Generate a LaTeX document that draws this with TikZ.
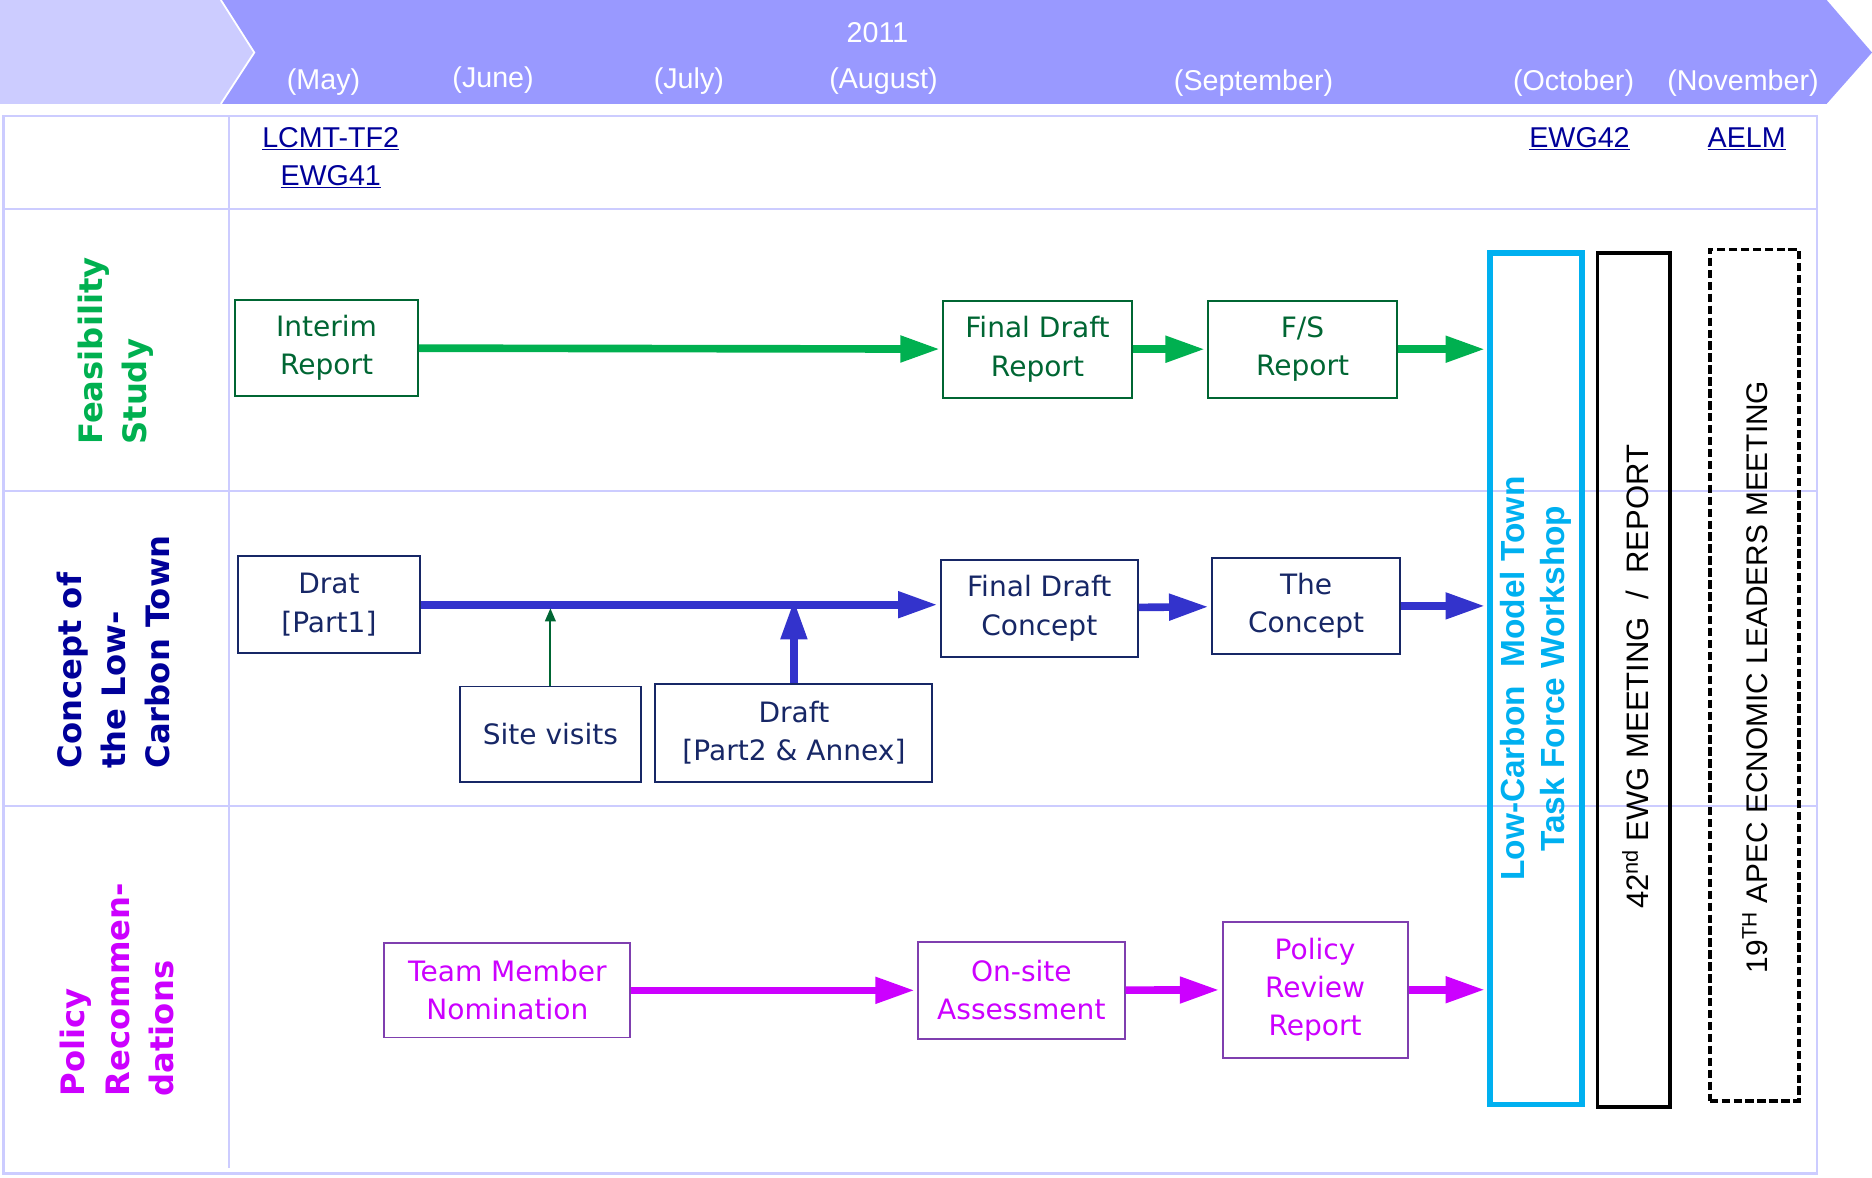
\documentclass[tikz,border=0pt]{standalone}
\usepackage{fontspec}
\setmainfont{DejaVu Sans}
\newfontfamily\narrowfont{Liberation Sans}
\usetikzlibrary{arrows.meta}

\definecolor{hdrlight}{HTML}{CCCCFF}
\definecolor{hdrdark}{HTML}{9999FF}
\definecolor{gridc}{HTML}{CCCCFF}
\definecolor{fsgreen}{HTML}{00B050}
\definecolor{fsdark}{HTML}{006633}
\definecolor{cnlabel}{HTML}{000099}
\definecolor{cnnavy}{HTML}{172766}
\definecolor{cnblue}{HTML}{3333CC}
\definecolor{prmag}{HTML}{CC00FF}
\definecolor{prpurple}{HTML}{7F3FAF}
\definecolor{wscyan}{HTML}{00B0F0}

\tikzset{
  stepbox/.style={draw, line width=1.6pt, inner sep=0pt, align=center,
    font=\fontsize{23.5}{32}\selectfont},
  fsbox/.style={stepbox, draw=fsdark, text=fsdark},
  cnbox/.style={stepbox, draw=cnnavy, text=cnnavy},
  prbox/.style={stepbox, draw=prpurple, text=prmag},
  fatarrow/.style={line width=6.4pt, -{Triangle[length=33pt, width=21pt]}, shorten >=2pt},
  lanelabel/.style={rotate=90, align=left, font=\fontsize{27}{37}\selectfont\bfseries},
  month/.style={text=white, font=\narrowfont\fontsize{24}{28}\selectfont},
  meeting/.style={text=cnlabel, align=center, font=\narrowfont\fontsize{24}{32}\selectfont},
}

\begin{document}
\begin{tikzpicture}[x=1pt, y=-1pt]
  \useasboundingbox (0,0) rectangle (1568,986);

  % timeline header
  \fill[hdrlight] (0,0) -- (185,0) -- (213,44) -- (185,87) -- (0,87) -- cycle;
  \fill[hdrdark] (185,0) -- (1530,0) -- (1568,44) -- (1530,87) -- (185,87) -- (213,44) -- cycle;
  \draw[white, line width=1.5pt] (185,0) -- (213,44) -- (185,87);
  \node[month] (year) at (735,27) {2011};
  \node[month] (may) at (271,69) {(May)};
  \node[month] (jun) at (413,67) {(June)};
  \node[month] (jul) at (577,68) {(July)};
  \node[month] (aug) at (740,68) {(August)};
  \node[month] (sep) at (1050,70) {(September)};
  \node[month] (oct) at (1318,70) {(October)};
  \node[month] (nov) at (1460,70) {(November)};

  % table grid
  \draw[gridc, line width=2pt] (3,97) rectangle (1522,983);
  \draw[gridc, line width=2pt] (3,175) -- (1522,175);
  \draw[gridc, line width=2pt] (3,411) -- (1522,411);
  \draw[gridc, line width=2pt] (3,675) -- (1522,675);
  \draw[gridc, line width=2pt] (192,97) -- (192,978);

  % meetings
  \node[meeting] (tf2) at (277,132) {\underline{LCMT-TF2}\\\underline{EWG41}};
  \node[meeting] (ewg42) at (1323,116) {\underline{EWG42}};
  \node[meeting] (aelmlink) at (1463,116) {\underline{AELM}};

  % lane labels
  \node[lanelabel, text=fsgreen] (fslabel) at (97,294) {Feasibility\\Study};
  \node[lanelabel, text=cnlabel] (cnlabel) at (95,546) {Concept of\\the Low-\\Carbon Town};
  \node[lanelabel, text=prmag] (prlabel) at (98,829) {Policy\\Recommen-\\dations};

  % milestones
  \node[draw=wscyan, line width=4.5pt, minimum width=77pt, minimum height=713pt] (ws) at (1286.5,568.5) {};
  \node[draw=black, line width=3.2pt, minimum width=61pt, minimum height=715pt] (ewg) at (1368.5,569.5) {};
  \node[draw=black, line width=3.2pt, dashed, dash pattern=on 7pt off 3pt, minimum width=75pt, minimum height=713pt] (aelm) at (1469.5,565.5) {};
  \node[rotate=90, text=wscyan, align=center, font=\narrowfont\fontsize{28}{33}\selectfont\bfseries] (wstext) at (ws.center) {Low-Carbon\ \ Model Town\\Task Force Workshop};
  \node[rotate=90, font=\narrowfont\fontsize{26}{30}\selectfont] (ewgtext) at (1370,567) {42\textsuperscript{nd} EWG MEETING \ / \ REPORT};
  \node[rotate=90, font=\narrowfont\fontsize{25}{30}\selectfont] (aelmtext) at (1470,567) {19\textsuperscript{TH} APEC ECNOMIC LEADERS MEETING};

  % feasibility study
  \node[fsbox, minimum width=153pt, minimum height=81pt] (interim) at (273.5,291.5) {Interim\\Report};
  \node[fsbox, minimum width=158pt, minimum height=81pt] (fdr) at (869,292.5) {Final Draft\\Report};
  \node[fsbox, minimum width=158pt, minimum height=81pt] (fsr) at (1091,292.5) {F/S\\Report};
  \draw[fatarrow, fsgreen] (interim) -- (fdr);
  \draw[fatarrow, fsgreen] (fdr) -- (fsr);
  \draw[fatarrow, fsgreen] (fsr) -- (fsr -| ws.west);

  % concept of the low-carbon town
  \node[cnbox, minimum width=153pt, minimum height=81pt] (drat) at (275.5,506.5) {Drat\\{[}Part1{]}};
  \node[cnbox, minimum width=165pt, minimum height=81pt] (fdc) at (870.5,509.5) {Final Draft\\Concept};
  \node[cnbox, minimum width=158pt, minimum height=81pt] (concept) at (1094,507.5) {The\\Concept};
  \node[cnbox, minimum width=152pt, minimum height=80pt] (site) at (461,615) {Site visits};
  \node[cnbox, minimum width=232pt, minimum height=82pt] (draft2) at (665,614) {Draft\\{[}Part2 \& Annex{]}};
  \draw[fatarrow, cnblue] (drat) -- (drat -| fdc.west);
  \draw[fatarrow, cnblue] (fdc) -- (concept);
  \draw[fatarrow, cnblue] (concept) -- (concept -| ws.west);
  \draw[fsdark, line width=1.5pt, -{Triangle[length=11pt, width=9pt]}, shorten >=3pt] (site.north) -- (site.north |- drat.east);
  \draw[fatarrow, cnblue, shorten >=-4pt] (draft2.north) -- (draft2.north |- drat.east);

  % policy recommendations
  \node[prbox, minimum width=206pt, minimum height=79pt] (team) at (425,829.5) {Team Member\\Nomination};
  \node[prbox, minimum width=173pt, minimum height=81pt] (onsite) at (855.5,829.5) {On-site\\Assessment};
  \node[prbox, minimum width=155pt, minimum height=114pt] (review) at (1101.5,829) {Policy\\Review\\Report};
  \draw[fatarrow, prmag] (team) -- (onsite);
  \draw[fatarrow, prmag] (onsite) -- (review);
  \draw[fatarrow, prmag] (review) -- (review -| ws.west);
\end{tikzpicture}
\end{document}
